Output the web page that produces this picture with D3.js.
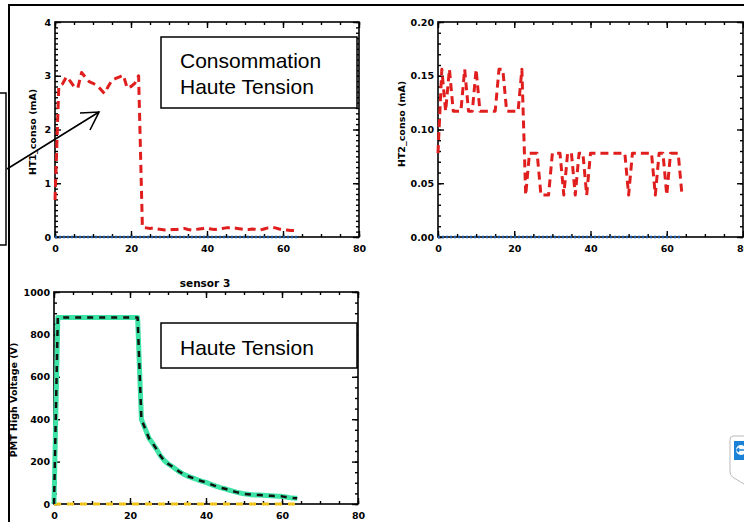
<!DOCTYPE html>
<html><head><meta charset="utf-8">
<script src="https://cdn.jsdelivr.net/npm/d3@7"></script>
<style>body{margin:0;background:#fff}svg{display:block}</style>
</head><body>
<svg id="c" width="744" height="522"></svg>
<script>
// ---------- DATA ----------
const sampleTime = [0,1,2,3,4,5,6,7,8,9,10,11,12,13,14,15,16,17,18,19,20,21,22,23,24,25,26,27,28,29,30,31,32,33,34,35,36,37,38,39,40,41,42,43,44,45,46,47,48,49,50,51,52,53,54,55,56,57,58,59,60,61,62,63,64];
const ht1Conso = [0.69,2.8,2.85,2.98,2.9,2.8,2.77,3.06,2.97,2.89,2.86,2.82,2.75,2.67,2.8,2.92,2.95,2.98,3.01,2.77,2.8,2.86,3.0,
  0.18,0.17,0.16,0.17,0.15,0.14,0.13,0.13,0.14,0.14,0.15,0.16,0.14,0.13,0.14,0.15,0.16,0.17,0.15,0.14,0.15,0.16,0.17,0.17,0.17,0.16,0.15,0.14,0.14,0.15,0.14,0.13,0.15,0.17,0.18,0.17,0.15,0.14,0.13,0.12,0.12,0.12];
const ht2Conso = [0.078,0.156,0.117,0.156,0.117,0.117,0.117,0.156,0.117,0.117,0.156,0.117,0.117,0.117,0.117,0.117,0.156,0.156,0.117,0.117,0.117,0.117,0.156,
  0.039,0.078,0.078,0.078,0.039,0.039,0.039,0.078,0.078,0.078,0.039,0.078,0.078,0.039,0.078,0.078,0.039,0.078,0.078,0.078,0.078,0.078,0.078,0.078,0.078,0.078,0.078,0.039,0.078,0.078,0.078,0.078,0.078,0.078,0.039,0.078,0.078,0.039,0.078,0.078,0.078,0.039];
const pmtHighVoltage = [0,880,880,880,880,880,880,880,880,880,880,880,880,880,880,880,880,880,880,880,880,880,880,
  400,355,310,285,258,228,205,190,178,165,152,142,133,126,120,113,107,102,95,88,82,76,72,66,61,56,52,48,46,44,42,42,41,40,39,38,37,36,33,30,28,27];
const baselineTime = [0, 64];
const baselineValue = [0, 0];

const xTicks = [0, 20, 40, 60, 80];
const y1Ticks = [0, 1, 2, 3, 4];
const y2Ticks = [0, 0.05, 0.10, 0.15, 0.20];
const y3Ticks = [0, 200, 400, 600, 800, 1000];

const y1Title = "HT1_conso (mA)";
const y2Title = "HT2_conso (mA)";
const y3Title = "PMT High Voltage (V)";
const panel3Title = "sensor 3";
const note1 = ["Consommation", "Haute Tension"];
const note2 = ["Haute Tension"];

// ---------- DRAW ----------
const svg = d3.select("#c");
const tickFont = "DejaVu Sans, sans-serif";

function panel(cfg) {
  const x = d3.scaleLinear().domain([0, 80]).range([cfg.left, cfg.right]);
  const y = d3.scaleLinear().domain(cfg.yDomain).range([cfg.bottom, cfg.top]);
  const g = svg.append("g");
  const xMinor = d3.range(0, 80.001, 5);
  const yMinor = d3.range(cfg.yDomain[0], cfg.yDomain[1] + cfg.yMinor / 2, cfg.yMinor);

  const styleAxis = sel => {
    sel.select(".domain").remove();
    sel.selectAll("line").attr("stroke", "#000").attr("stroke-width", 1.4);
    sel.selectAll("text").attr("font-family", tickFont).attr("font-weight", "bold")
      .attr("font-size", 9.5).attr("fill", "#000");
  };
  // minor ticks
  g.append("g").attr("transform", `translate(0,${cfg.bottom})`)
    .call(d3.axisBottom(x).tickValues(xMinor).tickSize(-3).tickFormat("")).call(styleAxis);
  g.append("g").attr("transform", `translate(0,${cfg.top})`)
    .call(d3.axisTop(x).tickValues(xMinor).tickSize(-3).tickFormat("")).call(styleAxis);
  g.append("g").attr("transform", `translate(${cfg.left},0)`)
    .call(d3.axisLeft(y).tickValues(yMinor).tickSize(-3).tickFormat("")).call(styleAxis);
  g.append("g").attr("transform", `translate(${cfg.right},0)`)
    .call(d3.axisRight(y).tickValues(yMinor).tickSize(-3).tickFormat("")).call(styleAxis);
  // major ticks
  g.append("g").attr("transform", `translate(0,${cfg.bottom})`)
    .call(d3.axisBottom(x).tickValues(xTicks).tickSize(-6).tickSizeOuter(0).tickPadding(8).tickFormat(d3.format("d"))).call(styleAxis);
  g.append("g").attr("transform", `translate(0,${cfg.top})`)
    .call(d3.axisTop(x).tickValues(xTicks).tickSize(-6).tickFormat("")).call(styleAxis);
  g.append("g").attr("transform", `translate(${cfg.left},0)`)
    .call(d3.axisLeft(y).tickValues(cfg.yTicks).tickSize(-6).tickPadding(4).tickFormat(cfg.fmt)).call(styleAxis);
  g.append("g").attr("transform", `translate(${cfg.right},0)`)
    .call(d3.axisRight(y).tickValues(cfg.yTicks).tickSize(-6).tickFormat("")).call(styleAxis);
  // box
  g.append("rect").attr("x", cfg.left).attr("y", cfg.top)
    .attr("width", cfg.right - cfg.left).attr("height", cfg.bottom - cfg.top)
    .attr("fill", "none").attr("stroke", "#000").attr("stroke-width", 1.6);
  // y title
  g.append("text").attr("transform", `translate(${cfg.titleX},${cfg.titleY}) rotate(-90)`)
    .attr("text-anchor", "middle").attr("font-family", tickFont).attr("font-weight", "bold")
    .attr("font-size", 9.5).text(cfg.yTitle);
  return { g, x, y };
}

function series(p, xs, ys, style) {
  const line = d3.line().x((d, i) => p.x(xs[i])).y((d, i) => p.y(ys[i]));
  p.g.append("path").datum(ys).attr("d", line).attr("fill", "none")
    .attr("stroke", style.color).attr("stroke-width", style.width)
    .attr("stroke-dasharray", style.dash || null)
    .attr("stroke-linejoin", "round").attr("stroke-linecap", style.cap || "butt");
}

// outer frame of screenshot
svg.append("path").attr("d", "M9,522 L9,5 L744,5").attr("fill", "none").attr("stroke", "#000").attr("stroke-width", 2);

// Panel 1
const p1 = panel({ left: 55, right: 359, top: 22, bottom: 237, yDomain: [0, 4], yTicks: y1Ticks, yMinor: 0.1, fmt: d3.format("d"), yTitle: y1Title, titleX: 36, titleY: 132 });
series(p1, baselineTime, baselineValue, { color: "#1f5aa6", width: 2.5, dash: "2,2" });
series(p1, sampleTime, ht1Conso, { color: "#e01e1e", width: 3, dash: "8,5" });

// Panel 2
const p2 = panel({ left: 438, right: 743, top: 22, bottom: 237, yDomain: [0, 0.2], yTicks: y2Ticks, yMinor: 0.01, fmt: d3.format(".2f"), yTitle: y2Title, titleX: 405, titleY: 124 });
series(p2, baselineTime, baselineValue, { color: "#1f5aa6", width: 2.5, dash: "2,2" });
series(p2, sampleTime, ht2Conso, { color: "#e01e1e", width: 3, dash: "8,5" });

// Panel 3
const p3 = panel({ left: 54, right: 358, top: 292, bottom: 504, yDomain: [0, 1000], yTicks: y3Ticks, yMinor: 50, fmt: d3.format("d"), yTitle: y3Title, titleX: 17, titleY: 400 });
series(p3, baselineTime, baselineValue, { color: "#f0c419", width: 3, dash: "7,6" });
series(p3, sampleTime, pmtHighVoltage, { color: "#3ee3a6", width: 5 });
series(p3, sampleTime, pmtHighVoltage, { color: "#111", width: 2.5, dash: "6,6" });
svg.append("text").attr("x", 205).attr("y", 287).attr("text-anchor", "middle")
  .attr("font-family", tickFont).attr("font-weight", "bold").attr("font-size", 10.5).text(panel3Title);

// Annotation boxes
function note(x0, y0, w, h, lines, tx, ty, lh) {
  svg.append("rect").attr("x", x0).attr("y", y0).attr("width", w).attr("height", h)
    .attr("fill", "#fff").attr("stroke", "#000").attr("stroke-width", 1.5);
  lines.forEach((t, i) => svg.append("text").attr("x", tx).attr("y", ty + i * lh)
    .attr("font-family", "Liberation Sans, Arial, sans-serif").attr("font-size", 21).attr("fill", "#000").text(t));
}
note(161, 37, 196, 71, note1, 180, 68, 26);
note(161, 323, 196, 45, note2, 180, 355, 26);

// left partial annotation box and arrow
svg.append("rect").attr("x", -5).attr("y", 93).attr("width", 11).attr("height", 152)
  .attr("fill", "none").attr("stroke", "#000").attr("stroke-width", 1.5);
svg.append("path").attr("d", "M7,169 L99,112 M80,113 L99,112 L90,130")
  .attr("fill", "none").attr("stroke", "#000").attr("stroke-width", 1.6);

// screenshot artefact icon (bottom right)
const ic = svg.append("g");
ic.append("path").attr("d", "M744,436 L733,436 Q730,436 730,440 L730,472 Q730,476 734,478 L744,484")
  .attr("fill", "#fff").attr("stroke", "#bbb").attr("stroke-width", 1);
ic.append("rect").attr("x", 734).attr("y", 441).attr("width", 12).attr("height", 19).attr("fill", "#1b82d8");
ic.append("circle").attr("cx", 741).attr("cy", 450).attr("r", 5).attr("fill", "#fff");
ic.append("path").attr("d", "M737,450 L744,450 M739,448 L737,450 L739,452").attr("stroke", "#1b82d8").attr("stroke-width", 1.5).attr("fill", "none");
</script>
</body></html>
